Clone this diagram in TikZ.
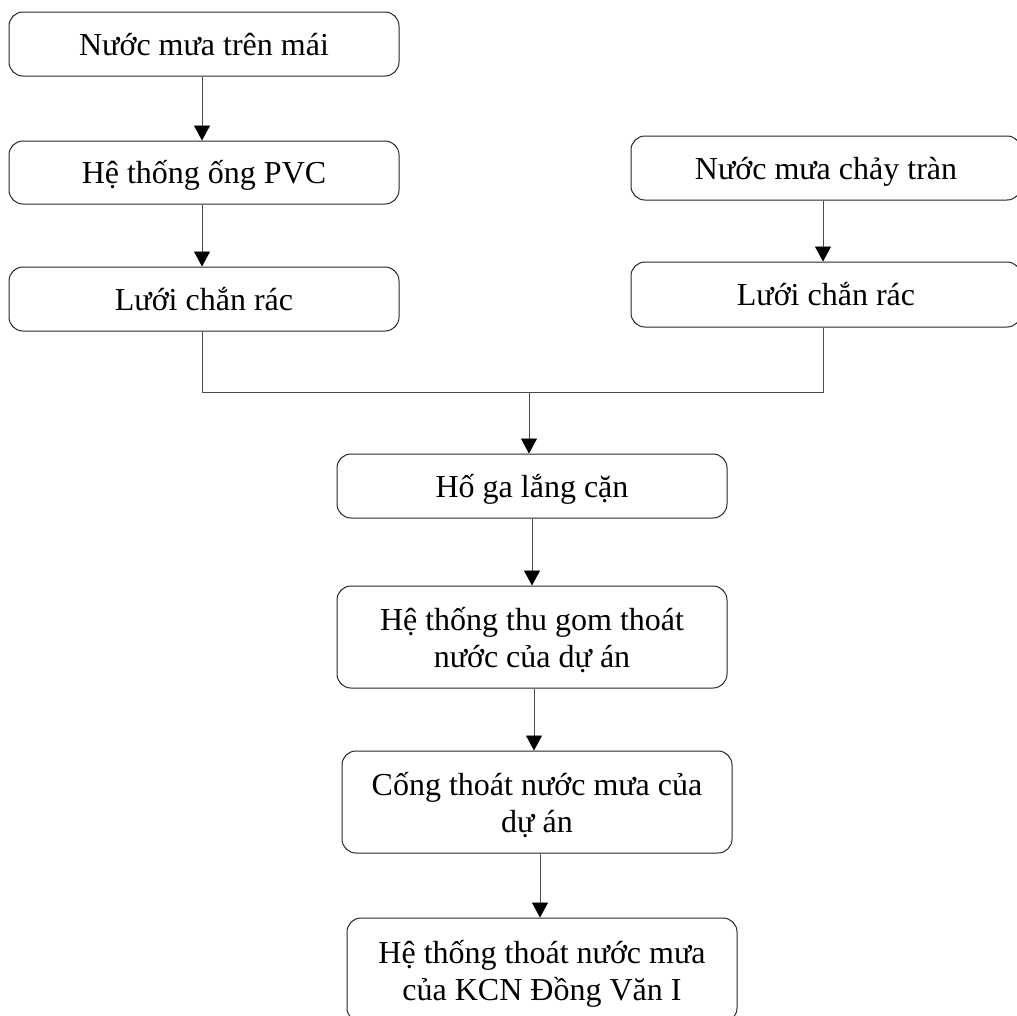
\documentclass[tikz,border=0pt]{standalone}
\usepackage{fontspec}
\setmainfont{Liberation Serif}
\usetikzlibrary{arrows.meta}
\begin{document}
\begin{tikzpicture}[x=1pt,y=-1pt,
  box/.style={draw=black!85,line width=1pt,rounded corners=14pt,minimum width=390pt,
    inner sep=0pt,align=center,font=\fontsize{32}{37}\selectfont,text height=22pt,text depth=0pt},
  twoline/.style={text height=60pt,text depth=0pt},
  conn/.style={draw=black!70,line width=0.9pt},
  arr/.style={conn,-{Triangle[length=15pt,width=16pt,color=black,fill=black]}}]
\useasboundingbox (0,0) rectangle (1017,1015);
\clip (0,0) rectangle (1017,1015);
\node[box,minimum height=64pt] (b1) at (204,44) {Nước mưa trên mái};
\node[box,minimum height=63pt] (b2) at (204,172.5) {Hệ thống ống PVC};
\node[box,minimum height=64pt] (b3) at (204,299) {Lưới chắn rác};
\node[box,minimum height=64pt] (b4) at (826,168) {Nước mưa chảy tràn};
\node[box,minimum height=65pt] (b5) at (826,294.5) {Lưới chắn rác};
\node[box,minimum height=64pt] (b6) at (532,486) {Hố ga lắng cặn};
\node[box,twoline,minimum height=102pt] (b7) at (532,637) {Hệ thống thu gom thoát\\nước của dự án};
\node[box,twoline,minimum height=102pt] (b8) at (537,802) {Cống thoát nước mưa của\\dự án};
\node[box,twoline,minimum height=104pt] (b9) at (542,970) {Hệ thống thoát nước mưa\\của KCN Đồng Văn I};
\coordinate (jl) at (202,392);
\coordinate (jr) at (823,392);
\coordinate (jm) at (529,392);
\draw[arr] ([xshift=-2pt]b1.south) -- ([xshift=-2pt]b2.north);
\draw[arr] ([xshift=-2pt]b2.south) -- ([xshift=-2pt]b3.north);
\draw[arr] ([xshift=-3pt]b4.south) -- ([xshift=-3pt]b5.north);
\draw[conn] ([xshift=-2pt]b3.south) -- (jl) -- (jr) -- ([xshift=-3pt]b5.south);
\draw[arr] (jm) -- (jm |- b6.north);
\draw[arr] (b6.south) -- (b7.north);
\draw[arr] ([xshift=2pt]b7.south) -- ([xshift=2pt]b7.south |- b8.north);
\draw[arr] ([xshift=3pt]b8.south) -- ([xshift=3pt]b8.south |- b9.north);
\end{tikzpicture}
\end{document}
